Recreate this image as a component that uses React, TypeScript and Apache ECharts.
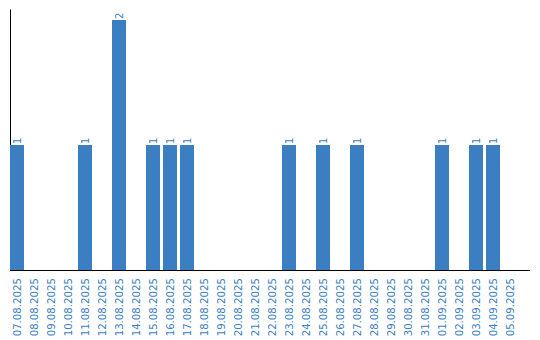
import React, { useEffect, useRef } from "react";
import * as echarts from "echarts";

const categories = [
  "07.08.2025", "08.08.2025", "09.08.2025", "10.08.2025", "11.08.2025", "12.08.2025",
  "13.08.2025", "14.08.2025", "15.08.2025", "16.08.2025", "17.08.2025", "18.08.2025",
  "19.08.2025", "20.08.2025", "21.08.2025", "22.08.2025", "23.08.2025", "24.08.2025",
  "25.08.2025", "26.08.2025", "27.08.2025", "28.08.2025", "29.08.2025", "30.08.2025",
  "31.08.2025", "01.09.2025", "02.09.2025", "03.09.2025", "04.09.2025", "05.09.2025",
];
const values = [
  1, 0, 0, 0, 1, 0,
  2, 0, 1, 1, 1, 0,
  0, 0, 0, 0, 1, 0,
  1, 0, 1, 0, 0, 0,
  0, 1, 0, 1, 1, 0,
];

const BLUE = "#3b7ec2";

export default function App() {
  const ref = useRef<HTMLDivElement>(null);
  useEffect(() => {
    if (!ref.current) return;
    const chart = echarts.init(ref.current, undefined, { renderer: "svg" });
    chart.setOption({
      animation: false,
      textStyle: { fontFamily: "DejaVu Sans" },
      grid: { left: 8.5, right: 21.5, top: 10, bottom: 70, containLabel: false },
      xAxis: {
        type: "category",
        data: categories,
        axisLine: { show: false },
        axisTick: { show: false },
        axisLabel: {
          rotate: 90,
          interval: 0,
          color: BLUE,
          fontSize: 10.2,
          fontFamily: "DejaVu Sans",
          margin: 8,
        },
      },
      yAxis: {
        type: "value",
        min: 0,
        max: 2.08,
        offset: -1.5,
        axisLine: { show: true, lineStyle: { color: "#000", width: 1 } },
        axisTick: { show: false },
        axisLabel: { show: false },
        splitLine: { show: false },
      },
      graphic: [
        {
          type: "line",
          shape: { x1: 10, y1: 270.5, x2: 530, y2: 270.5 },
          style: { stroke: "#000", lineWidth: 1 },
          z: 10,
        },
      ],
      series: [
        {
          type: "bar",
          data: values.map((v) => (v === 0 ? null : v)),
          barWidth: 14,
          itemStyle: { color: BLUE },
          label: {
            show: true,
            position: "top",
            rotate: 90,
            align: "left",
            verticalAlign: "middle",
            distance: 1,
            color: BLUE,
            fontSize: 10,
            fontFamily: "DejaVu Sans",
          },
        },
      ],
    });
    return () => chart.dispose();
  }, []);
  return <div ref={ref} style={{ width: 540, height: 340, position: "absolute", left: 0, top: 0 }} />;
}
